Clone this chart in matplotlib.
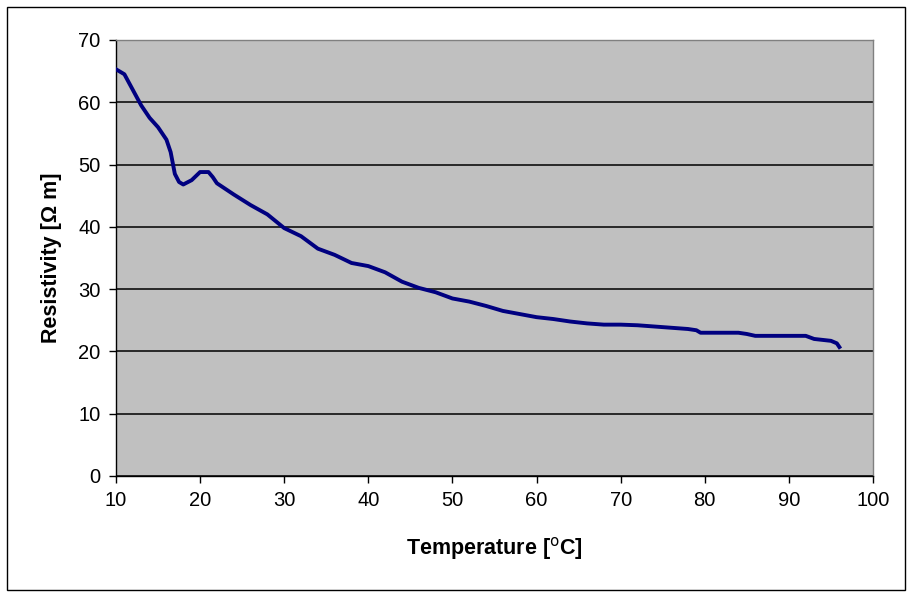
import matplotlib
matplotlib.use("Agg")
import matplotlib.pyplot as plt
from matplotlib.patches import Rectangle

temperature = [10, 11, 12, 13, 14, 15, 16, 16.5, 17, 17.5, 18, 19, 20, 21, 21.5,
               22, 24, 26, 28, 30, 32, 34, 36, 38, 40, 42, 44, 46, 48, 50, 52,
               54, 56, 58, 60, 62, 64, 66, 68, 70, 72, 74, 76, 78, 79, 79.5, 82,
               84, 85, 86, 90, 92, 93, 95, 95.7, 96]
resistivity = [65.3, 64.5, 62, 59.5, 57.5, 56, 54, 52, 48.5, 47.2, 46.8, 47.5, 48.8,
               48.8, 48, 47, 45.2, 43.5, 42, 39.8, 38.5, 36.5, 35.5, 34.2, 33.7,
               32.7, 31.2, 30.2, 29.5, 28.5, 28, 27.3, 26.5, 26, 25.5, 25.2, 24.8,
               24.5, 24.3, 24.3, 24.2, 24, 23.8, 23.6, 23.4, 23, 23, 23, 22.8,
               22.5, 22.5, 22.5, 22, 21.7, 21.3, 20.7]
x_ticks = list(range(10, 101, 10))
y_ticks = list(range(0, 71, 10))


def main():
    plt.rcParams["font.family"] = ["Liberation Sans", "DejaVu Sans"]
    fig = plt.figure(figsize=(9.11, 5.97), dpi=100)
    ax = fig.add_axes([0.1273, 0.2027, 0.831, 0.7303])

    ax.set_facecolor("#C0C0C0")
    ax.plot(temperature, resistivity, color="#000080", linewidth=2.8,
            solid_joinstyle="round", zorder=3)

    ax.set_xlim(10, 100)
    ax.set_ylim(0, 70)
    ax.set_xticks(x_ticks)
    ax.set_yticks(y_ticks)
    ax.yaxis.grid(True, color="black", linewidth=1.1)
    ax.set_axisbelow(True)

    for side in ["top", "right"]:
        ax.spines[side].set_color("#808080")
        ax.spines[side].set_linewidth(1.0)
    for side in ["left", "bottom"]:
        ax.spines[side].set_color("black")
        ax.spines[side].set_linewidth(1.0)

    ax.tick_params(direction="out", length=5, width=1, labelsize=14.5, pad=6)
    ax.set_xlabel("Temperature [$^{\\mathrm{o}}$C]", fontsize=15.5,
                  fontweight="bold", labelpad=18)
    ax.set_ylabel("Resistivity [Ω m]", fontsize=15.5, fontweight="bold",
                  labelpad=12)

    fig.patches.append(Rectangle((0.008, 0.012), 0.985, 0.976,
                                 transform=fig.transFigure, fill=False,
                                 edgecolor="black", linewidth=1.0))
    fig.savefig("out.png", dpi=100, facecolor="white")


if __name__ == "__main__":
    main()
